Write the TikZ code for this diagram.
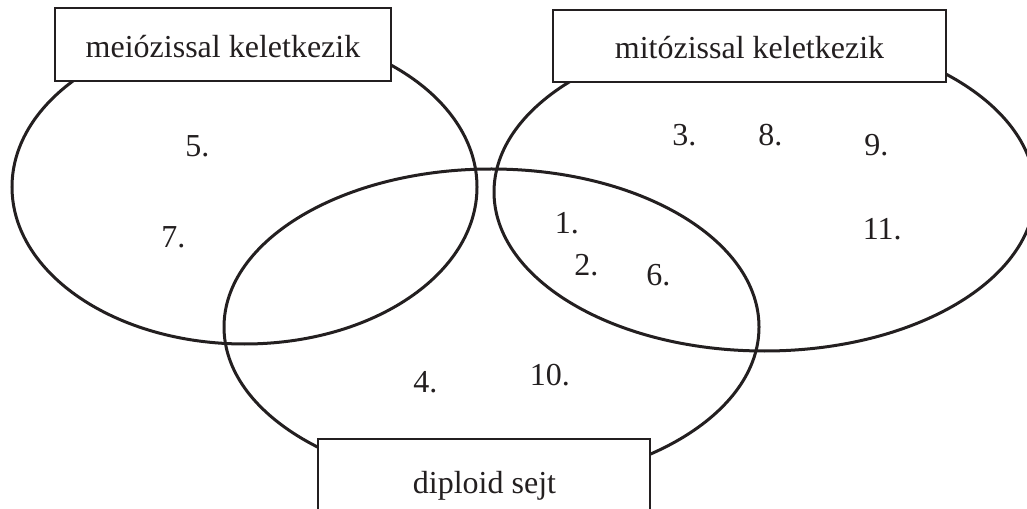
\documentclass[tikz,border=0pt]{standalone}
\usepackage{fontspec}
\setmainfont{Liberation Serif}
\definecolor{ink}{HTML}{231F20}
\begin{document}
\begin{tikzpicture}[x=0.75pt,y=-0.75pt,
  venn/.style={draw=ink, line width=2.25pt},
  labelbox/.style={draw=ink, line width=1.5pt, fill=white, inner sep=0pt},
  lbl/.style={inner sep=0pt, anchor=base, text=ink, font=\fontsize{24}{28}\selectfont},
  num/.style={inner sep=0pt, anchor=base west, text=ink, font=\fontsize{24}{28}\selectfont}]
\useasboundingbox (0,0) rectangle (1027,509);
\clip (0,0) rectangle (1027,509);
% sets
\draw[venn] (244.5,187) ellipse [x radius=232.5, y radius=157];
\draw[venn] (491.5,327) ellipse [x radius=267.5, y radius=158];
\draw[venn] (764.5,192) ellipse [x radius=270.5, y radius=159];
% label boxes
\node[labelbox, minimum width=252pt, minimum height=54.75pt] (meiobox) at (223,44.5) {};
\node[lbl] (meiotxt) at (223,58) {meiózissal keletkezik};
\node[labelbox, minimum width=294.75pt, minimum height=54pt] (mitobox) at (749.5,46) {};
\node[lbl] (mitotxt) at (749.5,59) {mitózissal keletkezik};
\node[labelbox, minimum width=249pt, minimum height=54.75pt] (diplbox) at (484,475.5) {};
\node[lbl] (dipltxt) at (484.5,493) {diploid sejt};
% numbers
\node[num] (n5) at (185,157) {5.};
\node[num] (n7) at (161,248) {7.};
\node[num] (n3) at (672,146) {3.};
\node[num] (n8) at (758,146) {8.};
\node[num] (n9) at (864,156) {9.};
\node[num] (n1) at (554.5,234) {1.};
\node[num] (n11) at (862.5,240) {11.};
\node[num] (n2) at (574,276) {2.};
\node[num] (n6) at (646,286) {6.};
\node[num] (n4) at (413,392) {4.};
\node[num] (n10) at (529.5,385) {10.};
\end{tikzpicture}
\end{document}
